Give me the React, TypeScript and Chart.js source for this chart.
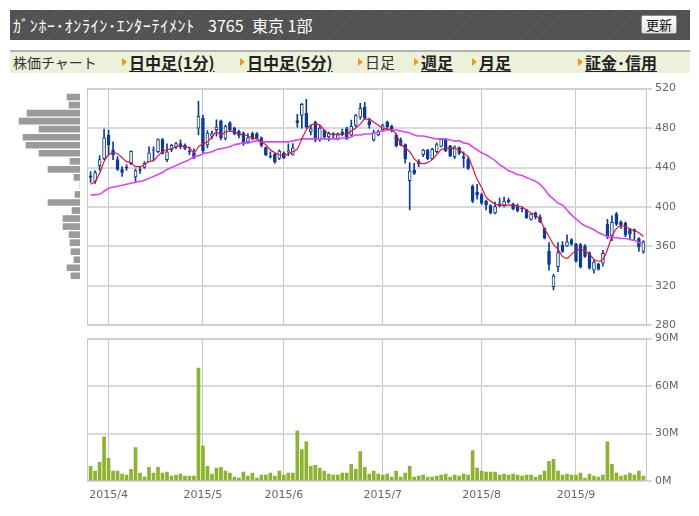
import React, { useEffect, useRef } from "react";
import { Chart, registerables } from "chart.js";

Chart.register(...registerables);

// ---- data ----
const tradingDays: [string, number[]][] = [
  ["2015/3", [26, 27, 30, 31]],
  ["2015/4", [1, 2, 3, 6, 7, 8, 9, 10, 13, 14, 15, 16, 17, 20, 21, 22, 23, 24, 27, 28, 30]],
  ["2015/5", [1, 7, 8, 11, 12, 13, 14, 15, 18, 19, 20, 21, 22, 25, 26, 27, 28, 29]],
  ["2015/6", [1, 2, 3, 4, 5, 8, 9, 10, 11, 12, 15, 16, 17, 18, 19, 22, 23, 24, 25, 26, 29, 30]],
  ["2015/7", [1, 2, 3, 6, 7, 8, 9, 10, 13, 14, 15, 16, 17, 21, 22, 23, 24, 27, 28, 29, 30, 31]],
  ["2015/8", [3, 4, 5, 6, 7, 10, 11, 12, 13, 14, 17, 18, 19, 20, 21, 24, 25, 26, 27, 28, 31]],
  ["2015/9", [1, 2, 3, 4, 7, 8, 9, 10, 11, 14, 15, 16, 17, 18, 24, 25]],
];
const dates: string[] = tradingDays.flatMap(([m, ds]) => ds.map((d) => `${m}/${d}`));

const monthLabels = ["2015/4", "2015/5", "2015/6", "2015/7", "2015/8", "2015/9"];

const opens = [
  431.5, 426, 442, 449, 473, 458, 448, 438, 440.5, 444,
  430.5, 438, 440, 446, 457, 456, 468.3, 448, 458, 461,
  464.3, 462.5, 456.5, 455, 480, 490, 463, 471.5, 478.3, 487,
  469.5, 485.3, 480, 476.5, 475, 466, 474.3, 474.3, 470, 460.3,
  451.5, 453.3, 449.3, 455, 456, 452.7, 487.7, 492.7, 495, 476,
  486, 467.7, 477.7, 471, 474.3, 468.7, 476, 479.3, 472.7, 482.7,
  491, 501, 487, 468, 473, 478, 486, 482, 473, 468,
  463.3, 426.7, 437.5, 446, 453, 457.7, 449, 456, 461.5, 468.5,
  462, 451, 460.2, 451, 448, 421, 415, 412.7, 406, 401.5,
  394, 403.3, 401, 406.7, 403.3, 400.7, 398.7, 397.3, 387.3, 394,
  390, 378.3, 355, 319.3, 339.5, 361.3, 360.5, 367, 362.5, 362,
  360.5, 353.5, 336, 342.3, 343, 382.5, 371, 393, 384.5, 383.5,
  377, 377, 368, 355,
];
const closes = [
  430, 435, 448, 470, 463, 453, 438, 435, 439.5, 456.5,
  437, 437, 444.5, 455, 458, 468.3, 454.3, 456, 462.5, 464.3,
  461, 459.3, 455.5, 449.5, 492, 457, 475, 474.3, 481, 470,
  481.5, 478.5, 474.3, 472.5, 464, 470, 469.3, 470, 462.5, 453,
  450.7, 445.5, 456.7, 450, 457, 460, 485.5, 504, 481, 479.3,
  467.7, 480, 471, 475, 472.7, 474.3, 473.3, 468.7, 481.7, 492.7,
  500, 490, 483.5, 476, 476.3, 482.5, 481.5, 479.3, 462, 463,
  448.7, 436.5, 434, 444, 457.7, 449, 458.5, 463.3, 468.5, 457,
  452, 461, 454.3, 449.3, 439, 406, 412, 404, 402, 394,
  400.3, 401, 406, 405, 398.3, 396, 398, 389.3, 392.7, 390,
  385, 368.3, 341.7, 330, 353.7, 355, 364.7, 362.5, 345, 339.5,
  350, 338.3, 344.3, 337, 353, 370, 384.5, 382.5, 381.5, 371.5,
  372.5, 375.3, 359.5, 365,
];
const highs = [
  436, 437, 452, 479, 478, 466, 451, 441, 443, 457,
  438.5, 441, 446, 461, 461, 469, 469.5, 464, 463.5, 465.5,
  468, 464, 461, 459, 507, 493, 477.5, 477, 488.3, 488,
  483, 486.7, 481, 478, 476, 474.5, 476, 475.5, 471, 461,
  456, 454.3, 458, 456, 464, 464.3, 494, 505, 509, 483,
  487, 483, 478.3, 476, 475.5, 475, 479, 481, 488, 494,
  505, 506, 490, 478, 478, 484, 487, 483, 474.3, 470,
  464, 445, 444.3, 448, 458.5, 458.5, 459.5, 465, 469.5, 469.5,
  462.5, 462, 461, 456, 451, 422.5, 423, 414, 407, 402.5,
  405, 409, 410, 409, 404, 403, 400, 398, 393.3, 395,
  392, 379, 364, 331.7, 364, 365, 371.7, 368, 363.3, 363.3,
  362, 354.5, 346, 343, 356, 387.5, 391, 394.5, 386, 385,
  378.5, 378, 369, 366,
];
const lows = [
  425, 424, 437, 448, 453, 448, 437, 431, 437, 443,
  426, 434, 439, 446, 448, 455, 453.5, 446, 456, 459,
  459, 458, 453, 449, 473, 455, 460, 469, 471.7, 468,
  468, 476.7, 473, 470, 462.5, 464.5, 468, 469, 461, 452,
  449.5, 444.3, 448, 449, 452, 452.5, 481, 480, 480, 473,
  466, 466.7, 470, 467, 470, 468, 472, 468.5, 472, 481.5,
  489, 489, 480, 466.7, 472, 477, 479.3, 476, 461, 462,
  444.5, 397, 433, 441, 451, 448, 448, 455, 461, 456,
  451, 449, 453, 440, 438, 404.3, 408, 402.7, 397, 393,
  393, 400, 400, 404, 397, 395, 395, 388.3, 386.7, 388,
  384, 367.7, 336, 316, 334.5, 354, 360, 361, 344, 338,
  349, 337, 333, 336, 340, 368, 366, 381, 378, 370,
  367, 366, 355, 353,
];
// volume, millions of shares
const volumes = [
  9.3, 6.2, 11.8, 27.9, 14.3, 6.2, 6.2, 4.3, 3.7, 7.4,
  21.1, 5.0, 2.7, 8.7, 5.0, 8.7, 5.0, 5.6, 3.1, 3.7,
  4.3, 3.1, 3.1, 3.1, 71.4, 22.3, 9.3, 4.3, 8.1, 8.7,
  6.2, 5.0, 2.5, 1.9, 5.6, 3.1, 5.0, 1.9, 3.7, 3.7,
  5.0, 3.1, 6.2, 3.7, 5.0, 5.0, 31.7, 19.9, 24.8, 9.3,
  9.9, 8.1, 6.2, 4.3, 3.7, 3.7, 5.0, 5.0, 10.6, 7.4,
  18.6, 8.7, 4.3, 6.2, 4.3, 3.7, 4.3, 2.5, 6.2, 2.5,
  5.0, 9.3, 2.5, 3.1, 3.7, 2.5, 2.5, 3.1, 3.7, 4.3,
  2.5, 3.7, 3.1, 4.3, 3.7, 19.2, 8.1, 6.2, 5.6, 5.6,
  5.6, 3.7, 4.3, 3.7, 4.3, 3.7, 3.1, 3.7, 3.7, 2.5,
  3.7, 6.2, 12.4, 13.7, 6.2, 3.7, 4.3, 3.7, 3.7, 5.0,
  1.9, 4.3, 3.1, 2.5, 3.7, 24.8, 10.6, 5.0, 3.1, 3.7,
  5.0, 3.7, 6.2, 3.1,
];
const maShort = [
  423, 426, 434, 446, 453, 455, 454, 450, 446, 445,
  441, 441, 443, 446, 447, 452, 456, 458, 459, 461,
  462, 461, 460, 455, 461, 464, 466, 471, 476, 473,
  476, 477, 476, 474, 473, 472, 470, 469, 466, 463,
  458, 455, 453, 452, 454, 456, 459, 469, 478, 483,
  484, 483, 478, 474, 474, 473, 474, 474, 477, 480,
  484, 489, 489, 486, 483, 480, 479, 478, 474, 464,
  460, 456, 449, 445, 444, 445, 448, 453, 458, 459,
  460, 459, 458, 454, 451, 440, 428, 420, 410, 406,
  403, 402, 402, 402, 402, 401, 400, 397, 394, 392,
  387, 378, 370, 362, 357, 350, 348, 352, 356, 357,
  355, 352, 347, 345, 347, 357, 370, 378, 381, 380,
  378, 376, 374, 370,
];
const maLong = [
  412, 412.5, 413, 416, 419, 420, 421, 422, 423, 424,
  425, 426, 427, 429, 431, 433, 435, 438, 440, 442,
  444, 446, 448, 451, 452, 454, 455, 456, 458, 459,
  460, 461, 463, 464, 465, 465, 466, 467, 466, 466,
  466, 466, 466, 466, 466, 467, 468, 469, 469, 469,
  469, 469, 469, 469, 469, 469, 470, 470, 471, 473,
  473, 474, 474, 475, 476, 477, 478, 478, 478, 477,
  476, 475, 473, 472, 472, 471, 470, 469, 469, 469,
  468, 467, 467, 465, 464, 461, 458, 455, 453, 450,
  447, 443, 440, 437, 435, 433, 432, 430, 428, 426,
  423, 418, 412, 408, 404, 402, 397, 392, 388, 384,
  381, 379, 377, 374, 372, 370, 369, 369, 368, 368,
  367, 366, 364, 363,
];
// volume-by-price profile
const profilePrices = [509, 501, 493, 485, 477, 469, 461, 453, 445, 437, 429, 421, 412, 404, 396, 388, 380, 372, 364, 355, 347, 339, 331];
const profileVolumes = [26, 22, 106, 122, 82, 114, 108, 82, 20, 64, 12, 0, 10, 64, 16, 34, 34, 22, 20, 18, 12, 26, 18];

const priceTicks = [280, 320, 360, 400, 440, 480, 520];
const volumeTicks = [0, 30, 60, 90];

// ---- helpers ----
const monthStarts = monthLabels.map((m) => dates.findIndex((d) => d.startsWith(m + "/")));
const X_MIN = -0.8;
const X_MAX = 123.8;
const FONT = "'DejaVu Sans', sans-serif";
const BLUE = "#0c3c9a";
const HOLLOW = "#ffffc0";
const GRID_H = "#d9d9d9";
const GRID_V = "#c6c6c6";

const framePlugin = {
  id: "frame",
  beforeDatasetsDraw(chart: any) {
    const { ctx, chartArea: a } = chart;
    ctx.save();
    ctx.strokeStyle = "#c6c6c6";
    ctx.lineWidth = 1;
    ctx.strokeRect(a.left + 0.5, a.top + 0.5, a.right - a.left - 1, a.bottom - a.top - 1);
    ctx.restore();
  },
};

const monthXAxis = (showLabels: boolean, height: number) => ({
  type: "linear" as const,
  min: X_MIN,
  max: X_MAX,
  offset: false,
  grid: { offset: false, color: GRID_V, lineWidth: 1, drawTicks: false },
  border: { display: false },
  ticks: {
    display: showLabels,
    autoSkip: false,
    maxRotation: 0,
    padding: 8,
    color: "#666",
    font: { family: FONT, size: 11 },
    callback: (v: any) => {
      const k = monthStarts.indexOf(Number(v));
      return k >= 0 ? monthLabels[k] : "";
    },
  },
  afterBuildTicks: (s: any) => {
    s.ticks = monthStarts.map((v) => ({ value: v }));
  },
  afterFit: (s: any) => {
    s.height = height;
  },
});

export default function App() {
  const profileRef = useRef<HTMLCanvasElement>(null);
  const priceRef = useRef<HTMLCanvasElement>(null);
  const volRef = useRef<HTMLCanvasElement>(null);

  useEffect(() => {
    const charts: Chart[] = [];

    charts.push(
      new Chart(profileRef.current!, {
        type: "bar",
        data: {
          datasets: [
            {
              data: profilePrices.map((p, i) => ({ x: profileVolumes[i], y: p })) as any,
              backgroundColor: "#9b9b9b",
              barThickness: 6,
            },
          ],
        },
        options: {
          indexAxis: "y",
          animation: false,
          responsive: false,
          events: [],
          layout: { padding: { left: 10, right: 2, top: 7, bottom: 8 } },
          plugins: { legend: { display: false }, tooltip: { enabled: false } },
          scales: {
            x: { type: "linear", min: 0, max: 140, reverse: true, display: false },
            y: { type: "linear", min: 280, max: 520, display: false, offset: false },
          },
        },
      } as any)
    );

    charts.push(
      new Chart(priceRef.current!, {
        type: "bar",
        data: {
          datasets: [
            {
              type: "line",
              data: maShort.map((v, i) => ({ x: i, y: v })),
              borderColor: "#e5103e",
              borderWidth: 1.2,
              pointRadius: 0,
              cubicInterpolationMode: "monotone",
              order: 0,
            },
            {
              type: "line",
              data: maLong.map((v, i) => ({ x: i, y: v })),
              borderColor: "#dc45f7",
              borderWidth: 1.6,
              pointRadius: 0,
              cubicInterpolationMode: "monotone",
              order: 0,
            },
            {
              type: "bar",
              data: opens.map((o, i) => ({ x: i, y: [o, closes[i]] })),
              backgroundColor: opens.map((o, i) => (closes[i] > o ? HOLLOW : BLUE)),
              borderColor: BLUE,
              borderWidth: 1,
              borderSkipped: false,
              barThickness: 3,
              grouped: false,
              order: 1,
            },
            {
              type: "bar",
              data: lows.map((l, i) => ({ x: i, y: [l, highs[i]] })),
              backgroundColor: BLUE,
              barThickness: 1,
              grouped: false,
              order: 2,
            },
          ],
        },
        options: {
          animation: false,
          responsive: false,
          events: [],
          layout: { padding: { left: 7, right: 0, top: 7, bottom: 8 } },
          plugins: { legend: { display: false }, tooltip: { enabled: false } },
          scales: {
            x: monthXAxis(false, 0),
            y: {
              type: "linear",
              position: "right",
              min: 280,
              max: 520,
              afterBuildTicks: (s: any) => {
                s.ticks = priceTicks.map((v) => ({ value: v }));
              },
              ticks: { color: "#666", font: { family: FONT, size: 11 }, padding: 3 },
              grid: { color: GRID_H, lineWidth: 2, tickLength: 5 },
              border: { display: false },
              afterFit: (s: any) => {
                s.width = 50;
              },
            },
          },
        },
        plugins: [framePlugin],
      } as any)
    );

    charts.push(
      new Chart(volRef.current!, {
        type: "bar",
        data: {
          datasets: [
            {
              data: volumes.map((v, i) => ({ x: i, y: v })),
              backgroundColor: "#8db331",
              barThickness: 3,
            },
          ],
        },
        options: {
          animation: false,
          responsive: false,
          events: [],
          layout: { padding: { left: 7, right: 0, top: 7, bottom: 0 } },
          plugins: { legend: { display: false }, tooltip: { enabled: false } },
          scales: {
            x: monthXAxis(true, 35),
            y: {
              type: "linear",
              position: "right",
              min: 0,
              max: 90,
              afterBuildTicks: (s: any) => {
                s.ticks = volumeTicks.map((v) => ({ value: v }));
              },
              ticks: {
                color: "#666",
                font: { family: FONT, size: 11 },
                padding: 3,
                callback: (v: any) => `${v}M`,
              },
              grid: { color: GRID_H, lineWidth: 2, tickLength: 5 },
              border: { display: false },
              afterFit: (s: any) => {
                s.width = 50;
              },
            },
          },
        },
        plugins: [framePlugin],
      } as any)
    );

    return () => charts.forEach((c) => c.destroy());
  }, []);

  const jp = "'Noto Sans CJK JP', sans-serif";
  const tri = (left: number) => (
    <div
      style={{
        position: "absolute",
        left,
        top: 58,
        width: 0,
        height: 0,
        borderLeft: "5px solid #f39a13",
        borderTop: "4px solid transparent",
        borderBottom: "4px solid transparent",
      }}
    />
  );
  const link = (left: number, text: string) => (
    <div
      style={{
        position: "absolute",
        left,
        top: 51,
        height: 22,
        lineHeight: "22px",
        fontSize: 16,
        fontWeight: "bold",
        color: "#222",
        textDecoration: "underline",
        textUnderlineOffset: "2px",
        whiteSpace: "nowrap",
      }}
    >
      {text}
    </div>
  );

  return (
    <div
      style={{
        position: "absolute",
        left: 0,
        top: 0,
        width: 699,
        height: 516,
        background: "#fff",
        overflow: "hidden",
        fontFamily: jp,
      }}
    >
      {/* header */}
      <div
        style={{
          position: "absolute",
          left: 10,
          top: 10,
          width: 680,
          height: 30,
          background: "repeating-linear-gradient(135deg, #5a5a5a 0px, #5a5a5a 1px, #4f4f4f 1px, #4f4f4f 3px)",
        }}
      />
      <div style={{ position: "absolute", left: 13, top: 10, height: 30, lineHeight: "30px", color: "#fff", fontSize: 16, letterSpacing: "0.7px", whiteSpace: "nowrap" }}>
        ｶﾞﾝﾎｰ･ｵﾝﾗｲﾝ･ｴﾝﾀｰﾃｲﾒﾝﾄ
      </div>
      <div style={{ position: "absolute", left: 208, top: 10, height: 30, lineHeight: "30px", color: "#fff", fontSize: 16, whiteSpace: "nowrap" }}>
        3765
      </div>
      <div style={{ position: "absolute", left: 252, top: 10, height: 30, lineHeight: "30px", color: "#fff", fontSize: 16, whiteSpace: "nowrap" }}>
        東京 1部
      </div>
      <div
        style={{
          position: "absolute",
          left: 641,
          top: 15,
          width: 36,
          height: 19,
          boxSizing: "border-box",
          border: "1px solid #8a8a8a",
          borderRadius: 2,
          background: "linear-gradient(#ffffff, #e2e2e2)",
          fontSize: 13,
          lineHeight: "17px",
          textAlign: "center",
          color: "#111",
        }}
      >
        更新
      </div>

      {/* nav bar */}
      <div
        style={{
          position: "absolute",
          left: 10,
          top: 50,
          width: 680,
          height: 23,
          boxSizing: "border-box",
          borderTop: "2px solid #b3b3b3",
          background: "#ebf2d9",
        }}
      />
      <div style={{ position: "absolute", left: 13, top: 51, height: 22, lineHeight: "22px", fontSize: 14, color: "#333", whiteSpace: "nowrap" }}>
        株価チャート
      </div>
      {tri(122)}
      {link(129, "日中足(1分)")}
      {tri(240)}
      {link(247, "日中足(5分)")}
      {tri(358)}
      <div style={{ position: "absolute", left: 365, top: 51, height: 22, lineHeight: "22px", fontSize: 15, color: "#333", whiteSpace: "nowrap" }}>
        日足
      </div>
      {tri(414)}
      {link(421, "週足")}
      {tri(472)}
      {link(479, "月足")}
      {tri(578)}
      {link(585, "証金･信用")}

      {/* charts */}
      <canvas ref={profileRef} width={82} height={256} style={{ position: "absolute", left: 0, top: 79, width: 82, height: 256 }} />
      <canvas ref={priceRef} width={617} height={256} style={{ position: "absolute", left: 80, top: 79, width: 617, height: 256 }} />
      <canvas ref={volRef} width={617} height={187} style={{ position: "absolute", left: 80, top: 329, width: 617, height: 187 }} />
    </div>
  );
}
